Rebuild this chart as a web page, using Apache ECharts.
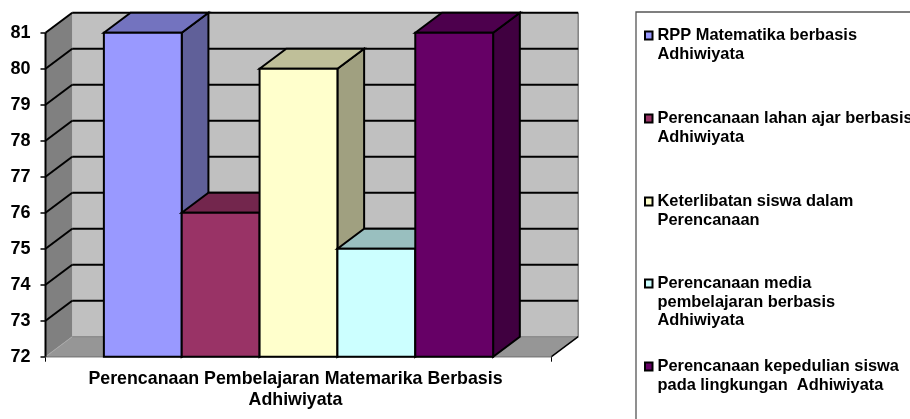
<!DOCTYPE html>
<html><head><meta charset="utf-8">
<style>html,body{margin:0;padding:0;background:#fff}#c{width:910px;height:419px}</style>
<script src="https://cdn.jsdelivr.net/npm/echarts@6/dist/echarts.min.js"></script>
</head><body><div id="c"></div>
<script>
const categories = ['Perencanaan Pembelajaran Matemarika Berbasis\nAdhiwiyata'];
const seriesNames = [
  'RPP Matematika berbasis\nAdhiwiyata',
  'Perencanaan lahan ajar berbasis\nAdhiwiyata',
  'Keterlibatan siswa dalam\nPerencanaan',
  'Perencanaan media\npembelajaran berbasis\nAdhiwiyata',
  'Perencanaan kepedulian siswa\npada lingkungan  Adhiwiyata'
];
const seriesValues = [81, 76, 80, 75, 81];
const yTicks = [72, 73, 74, 75, 76, 77, 78, 79, 80, 81];
const frontColors = ['#9999FF', '#993366', '#FFFFCC', '#CCFFFF', '#660066'];
const topColors = ['#7373BF', '#73264D', '#BFBF99', '#99BFBF', '#4D004D'];
const sideColors = ['#606099', '#602040', '#A0A080', '#80A0A0', '#400040'];
const legendFirstLineY = [35.5, 118.5, 201.5, 283.5, 366.5];

const DX = 26.7, DY = -20, BAR_W = 77.85, LH = 18.5, LW = 2;
const GRID = {left: 45.5, right: 358.5, top: 32.7, bottom: 62.3};

function poly(points, fill, stroke, lw) {
  return {type: 'polygon', shape: {points}, style: {fill, stroke: stroke || 'none', lineWidth: lw || 0, lineJoin: 'miter'}};
}
function line(x1, y1, x2, y2, stroke, lw) {
  return {type: 'line', shape: {x1, y1, x2, y2}, style: {stroke, lineWidth: lw, fill: 'none'}};
}
function renderWalls(params, api) {
  const c = api.coord([0, yTicks[0]]), w = api.size([1, 0])[0];
  const L = c[0] - w / 2, R = c[0] + w / 2, B = c[1], T = api.coord([0, yTicks[yTicks.length - 1]])[1];
  const ch = [];
  ch.push(poly([[L + DX, T + DY], [R + DX, T + DY], [R + DX, B + DY], [L + DX, B + DY]], '#C0C0C0'));
  ch.push(poly([[L, T], [L + DX, T + DY], [L + DX, B + DY], [L, B]], '#808080'));
  ch.push(poly([[L, B], [L + DX, B + DY], [R + DX, B + DY], [R, B]], '#969696'));
  ch.push(line(R + DX, T + DY, R + DX, B + DY, '#808080', 1.5));
  ch.push(line(L, B, L + DX, B + DY, '#A8A8A8', 1));
  ch.push(line(L + DX, B + DY, R + DX, B + DY, '#808080', 1));
  ch.push(line(L, B, R, B, '#808080', 1.5));
  ch.push(line(R, B, R + DX, B + DY, '#000', 1.5));
  yTicks.slice(1).forEach(v => {
    const y = api.coord([0, v])[1];
    ch.push(line(L, y, L + DX, y + DY, '#000', LW));
    ch.push(line(L + DX, y + DY, R + DX, y + DY, '#000', LW));
  });
  ch.push(line(L, T, L, B, '#000', LW));
  return {type: 'group', children: ch};
}
function barRenderer(i) {
  return function (params, api) {
    const base = api.coord([0, yTicks[0]]), top = api.coord([0, api.value(1)]);
    const xl = base[0] + (i - seriesValues.length / 2) * BAR_W, xr = xl + BAR_W;
    const yb = base[1], yt = top[1];
    return {type: 'group', children: [
      poly([[xr, yt], [xr + DX, yt + DY], [xr + DX, yb + DY], [xr, yb]], sideColors[i], '#000', LW),
      poly([[xl, yt], [xl + DX, yt + DY], [xr + DX, yt + DY], [xr, yt]], topColors[i], '#000', LW),
      poly([[xl, yt], [xr, yt], [xr, yb], [xl, yb]], frontColors[i], '#000', LW)
    ]};
  };
}
const series = [{type: 'custom', name: 'walls', silent: true, clip: false, data: [[0, 72]], renderItem: renderWalls, z: 1, encode: {x: 0, y: 1}}];
seriesNames.forEach((n, i) => series.push({
  type: 'custom', name: n, silent: true, clip: false, z: 2 + i,
  itemStyle: {color: frontColors[i]},
  data: [[0, seriesValues[i]]], encode: {x: 0, y: 1}, renderItem: barRenderer(i)
}));
const legends = seriesNames.map((n, i) => {
  const lines = n.split('\n').length;
  return {
    data: [n], orient: 'vertical', left: 644, padding: 0,
    top: legendFirstLineY[i] - (2 * lines - 1) * LH / 2,
    icon: 'rect', itemWidth: 7.5, itemHeight: 8, selectedMode: false,
    itemStyle: {borderColor: '#000', borderWidth: 2},
    formatter: name => '\n'.repeat(lines - 1) + name,
    textStyle: {fontFamily: 'Liberation Sans', fontWeight: 'bold', fontSize: 16.4, color: '#000', lineHeight: LH}
  };
});
const chart = echarts.init(document.getElementById('c'), null, {renderer: 'canvas'});
chart.setOption({
  animation: false, backgroundColor: '#fff',
  textStyle: {fontFamily: 'Liberation Sans'},
  grid: GRID,
  xAxis: {type: 'category', data: categories,
    axisLine: {show: false},
    axisTick: {show: true, length: 5, lineStyle: {color: '#000', width: 1}},
    axisLabel: {fontFamily: 'Liberation Sans', fontWeight: 'bold', fontSize: 17.8, color: '#000', lineHeight: 21, margin: 12, padding: [0, 6, 0, 0]}},
  yAxis: {type: 'value', min: 72, max: 81, interval: 1,
    splitLine: {show: false},
    axisLine: {show: false},
    axisTick: {show: true, length: 5, lineStyle: {color: '#000', width: 1.5}},
    axisLabel: {fontFamily: 'Liberation Sans', fontWeight: 'bold', fontSize: 18, color: '#000', margin: 15}},
  legend: legends,
  graphic: [{type: 'rect', shape: {x: 636, y: 12, width: 400, height: 500}, style: {fill: 'none', stroke: '#555', lineWidth: 1.3}, silent: true, z: 0}],
  series
});
</script></body></html>
